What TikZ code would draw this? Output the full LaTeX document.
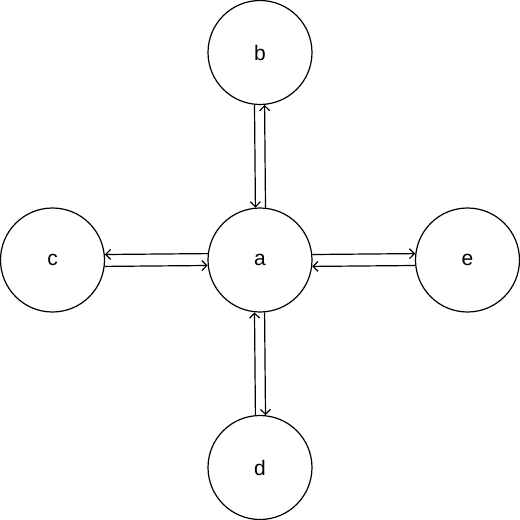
\documentclass[tikz,border=0pt]{standalone}
\usepackage{fontspec}
\setmainfont{Liberation Sans}
\usetikzlibrary{arrows.meta}
\begin{document}
\begin{tikzpicture}[x=1pt,y=-1pt,
  vertex/.style={circle,draw,line width=1.2pt,minimum size=104pt,inner sep=0pt,font=\fontsize{21}{25}\selectfont},
  link/.style={line width=1.2pt,-{Straight Barb[length=5pt,width=10pt,line width=1.2pt]}}]
\useasboundingbox (0,0) rectangle (520,520);
\node[vertex] (a) at (260,260) {a};
\node[vertex] (b) at (260,52.5) {b};
\node[vertex] (c) at (52.5,260) {c};
\node[vertex] (e) at (467.5,260) {e};
\node[vertex] (d) at (260,467.5) {d};
% b - a
\draw[link] (b.264.5) -- (a.95.5);
\draw[link] (a.84.5) -- (b.275.5);
% c - a
\draw[link] (a.173.5) -- (c.6.5);
\draw[link] (c.353.5) -- (a.186.5);
% a - e
\draw[link] (a.6.5) -- (e.173.5);
\draw[link] (e.186.5) -- (a.353.5);
% a - d
\draw[link] (d.95.5) -- (a.264.5);
\draw[link] (a.275.5) -- (d.84.5);
\end{tikzpicture}
\end{document}
